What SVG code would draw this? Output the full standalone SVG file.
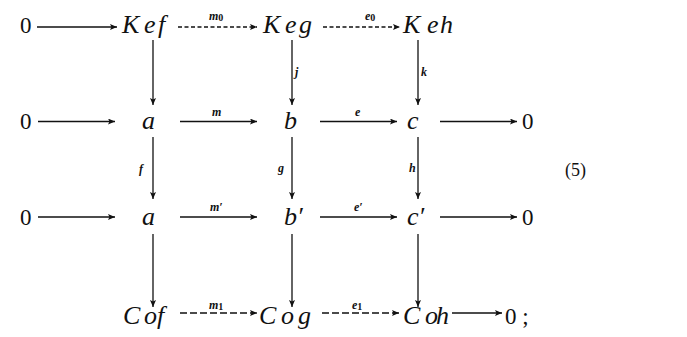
<svg xmlns="http://www.w3.org/2000/svg" width="687" height="337" viewBox="0 0 687 337">
<style>
.v{font-family:"Liberation Serif","DejaVu Serif",serif;font-style:italic;font-size:26px;fill:#111}
.z{font-family:"Liberation Serif","DejaVu Serif",serif;font-size:23px;fill:#111}
.l{font-family:"Liberation Serif","DejaVu Serif",serif;font-style:italic;font-weight:bold;font-size:12px;fill:#111}
.s{font-size:10px;font-style:normal}
.c{stroke:#111;stroke-width:1.3;fill:none;marker-end:url(#ah)}
.d{stroke-dasharray:4 2.5}
.dl{stroke-dasharray:7 3}
</style>
<defs>
<marker id="ah" markerUnits="userSpaceOnUse" markerWidth="10" markerHeight="8" refX="7" refY="3" orient="auto">
<path d="M0,0 L7,3 L0,6 L1.5,3 Z" fill="#111"/>
</marker>
</defs>
<rect width="687" height="337" fill="#fff"/>
<g id="connectors">
<line class="c" x1="37" y1="27" x2="117" y2="27"/>
<line class="c d" x1="178" y1="27" x2="257" y2="27"/>
<line class="c d" x1="323" y1="27" x2="400" y2="27"/>
<line class="c" x1="38" y1="121.5" x2="115" y2="121.5"/>
<line class="c" x1="180" y1="121.5" x2="257" y2="121.5"/>
<line class="c" x1="320" y1="121.5" x2="397" y2="121.5"/>
<line class="c" x1="440" y1="121.5" x2="517" y2="121.5"/>
<line class="c" x1="38" y1="217" x2="115" y2="217"/>
<line class="c" x1="180" y1="217" x2="257" y2="217"/>
<line class="c" x1="320" y1="217" x2="397" y2="217"/>
<line class="c" x1="440" y1="217" x2="517" y2="217"/>
<line class="c dl" x1="180" y1="313" x2="257" y2="313"/>
<line class="c dl" x1="322" y1="313" x2="399" y2="313"/>
<line class="c" x1="452" y1="313" x2="502" y2="313"/>
<line class="c" x1="153" y1="40" x2="153" y2="105"/>
<line class="c" x1="292" y1="40" x2="292" y2="105"/>
<line class="c" x1="418" y1="40" x2="418" y2="105"/>
<line class="c" x1="153" y1="137" x2="153" y2="199"/>
<line class="c" x1="292" y1="137" x2="292" y2="199"/>
<line class="c" x1="418" y1="137" x2="418" y2="199"/>
<line class="c" x1="153" y1="234" x2="153" y2="307"/>
<line class="c" x1="292" y1="234" x2="292" y2="307"/>
<line class="c" x1="418" y1="234" x2="418" y2="307"/>
<text class="l" x="209" y="20">m<tspan class="s" dy="1">0</tspan></text>
<text class="l" x="365" y="20">e<tspan class="s" dy="1">0</tspan></text>
<text class="l" x="295" y="76">j</text>
<text class="l" x="421" y="76">k</text>
<text class="l" x="212" y="116">m</text>
<text class="l" x="355" y="116">e</text>
<text class="l" x="139" y="173">f</text>
<text class="l" x="278" y="172">g</text>
<text class="l" x="409" y="172">h</text>
<text class="l" x="210" y="211">m′</text>
<text class="l" x="354" y="211">e′</text>
<text class="l" x="209" y="309">m<tspan class="s" dy="1">1</tspan></text>
<text class="l" x="352" y="309">e<tspan class="s" dy="1">1</tspan></text>
</g>
<g id="n0a"><text class="z" x="20" y="33">0</text></g>
<g id="Kef"><text class="v" x="122 144 158" y="33">Kef</text></g>
<g id="Keg"><text class="v" x="263 285 299" y="33">Keg</text></g>
<g id="Keh"><text class="v" x="403 427 440" y="33">Keh</text></g>
<g id="n0b"><text class="z" x="20" y="129">0</text></g>
<g id="a"><text class="v" x="142" y="129">a</text></g>
<g id="b"><text class="v" x="284" y="129">b</text></g>
<g id="c"><text class="v" x="407" y="129">c</text></g>
<g id="n0c"><text class="z" x="522" y="129">0</text></g>
<g id="n0d"><text class="z" x="20" y="225">0</text></g>
<g id="a2"><text class="v" x="142" y="225">a</text></g>
<g id="b2"><text class="v" x="284" y="225">b′</text></g>
<g id="c2"><text class="v" x="407" y="225">c′</text></g>
<g id="n0e"><text class="z" x="522" y="225">0</text></g>
<g id="Cof"><text class="v" x="123 144 157" y="324">Cof</text></g>
<g id="Cog"><text class="v" x="259 281 298" y="324">Cog</text></g>
<g id="Coh"><text class="v" x="403 425 436" y="324">Coh</text></g>
<g id="n0f"><text class="z" x="505" y="324">0 ;</text></g>
<g id="eq"><text class="z" x="565" y="176" style="font-size:18px">(5)</text></g>
</svg>
